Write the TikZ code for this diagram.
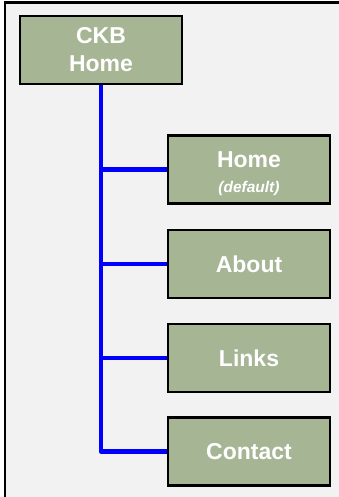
\documentclass[tikz,border=0pt]{standalone}
\usepackage{fontspec}
\setmainfont{Liberation Sans}
\definecolor{boxfill}{HTML}{A6B594}
\definecolor{panel}{HTML}{F2F2F2}
\definecolor{linkblue}{RGB}{0,0,255}
\tikzset{
  pagebox/.style={draw=black, line width=2.8pt, fill=boxfill, minimum width=162pt, minimum height=68pt,
    inner sep=0pt, align=center, text=white, font=\bfseries\fontsize{23}{28}\selectfont},
  link/.style={draw=linkblue, line width=4.5pt, line join=round}
}
\begin{document}
\begin{tikzpicture}[x=1pt, y=-1pt]
\useasboundingbox (0,0) rectangle (339,497);
\fill[white] (0,0) rectangle (339,497);
\filldraw[fill=panel, draw=black, line width=2.5pt] (5,2.5) rectangle (360,520);
\node[pagebox] (ckb) at (101,50) {CKB\\Home};
\node[pagebox] (home) at (249,169.5) {\rule{0pt}{24pt}Home\\[-3pt]{\fontsize{15.5}{18}\selectfont\itshape (default)}};
\node[pagebox] (about) at (249,264) {About};
\node[pagebox] (links) at (249,358) {Links};
\node[pagebox] (contact) at (249,451.5) {Contact};
\draw[link] (ckb.south) |- (contact.west);
\draw[link] (ckb.south |- home.west) -- (home.west);
\draw[link] (ckb.south |- about.west) -- (about.west);
\draw[link] (ckb.south |- links.west) -- (links.west);
\end{tikzpicture}
\end{document}
